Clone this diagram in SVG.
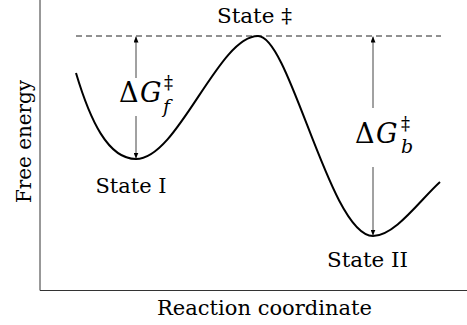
<svg xmlns="http://www.w3.org/2000/svg" width="467" height="325" viewBox="0 0 467 325">
  <defs>
    <marker id="ah" markerUnits="userSpaceOnUse" markerWidth="6" markerHeight="5" refX="6" refY="2.5" orient="auto">
      <path d="M0,0 L6,2.5 L0,5 z" fill="#000"/>
    </marker>
    <style>
      text { font-family: 'DejaVu Serif', 'Liberation Serif', serif; fill: #000; }
      .lbl { font-size: 21px; }
      .axis { stroke: #333; stroke-width: 1; fill: none; }
      .dash { stroke: #222; stroke-width: 1; stroke-dasharray: 6 4; fill: none; }
      .curve { stroke: #000; stroke-width: 2; fill: none; }
      .arr { stroke: #444; stroke-width: 1; fill: none; marker-end: url(#ah); }
      .big { font-size: 27px; }
      .it { font-style: italic; }
      .sup { font-size: 18px; }
      .sub { font-size: 19px; font-style: italic; }
    </style>
  </defs>
  <rect width="467" height="325" fill="#fff"/>

  <g id="axes">
    <path class="axis" d="M40,0 V290.5 H467"/>
    <text class="lbl" x="264.5" y="315" text-anchor="middle" textLength="215" lengthAdjust="spacingAndGlyphs">Reaction coordinate</text>
    <text class="lbl" transform="translate(31,141.5) rotate(-90)" x="0" y="0" text-anchor="middle" textLength="123" lengthAdjust="spacingAndGlyphs">Free energy</text>
  </g>

  <g id="curve">
    <path class="dash" d="M76,36 H441"/>
    <path class="curve" d="M76,73 C90,120 108,159 136,159 C178,159 218,36 258,36 C290,36 330,236 373,236 C395,236 420,200 440,182"/>
  </g>

  <g id="state-ts">
    <text class="lbl" x="254.5" y="23" text-anchor="middle" textLength="75" lengthAdjust="spacingAndGlyphs">State ‡</text>
  </g>
  <g id="state-1">
    <text class="lbl" x="131" y="193" text-anchor="middle" textLength="71" lengthAdjust="spacingAndGlyphs">State I</text>
  </g>
  <g id="state-2">
    <text class="lbl" x="367.5" y="267" text-anchor="middle" textLength="81" lengthAdjust="spacingAndGlyphs">State II</text>
  </g>

  <g id="connectors">
    <line class="arr" x1="136" y1="78" x2="136" y2="36.5"/>
    <line class="arr" x1="136" y1="116" x2="136" y2="158.5"/>
    <line class="arr" x1="373" y1="108" x2="373" y2="36.5"/>
    <line class="arr" x1="373" y1="167" x2="373" y2="235.5"/>
  </g>

  <g id="dg-forward">
    <text class="big" x="119" y="102">Δ<tspan class="it" x="140">G</tspan><tspan class="sup" x="164" y="89">‡</tspan><tspan class="sub" x="163" y="113">f</tspan></text>
  </g>
  <g id="dg-backward">
    <text class="big" x="355" y="143">Δ<tspan class="it" x="376">G</tspan><tspan class="sup" x="401" y="130">‡</tspan><tspan class="sub" x="401" y="153">b</tspan></text>
  </g>
</svg>
